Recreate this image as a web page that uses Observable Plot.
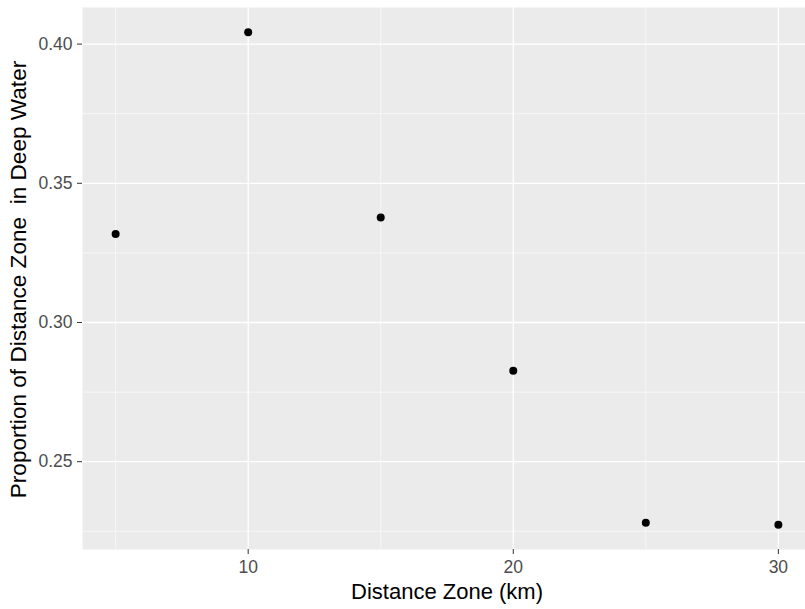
<!DOCTYPE html>
<html>
<head>
<meta charset="utf-8">
<script src="https://cdn.jsdelivr.net/npm/d3@7"></script>
<script src="https://cdn.jsdelivr.net/npm/@observablehq/plot@0.6"></script>
<style>
  html, body { margin: 0; padding: 0; background: #fff; }
  #chart svg { display: block; }
  #chart svg text { white-space: pre; }
</style>
</head>
<body>
<div id="chart"></div>
<script>
// Data
const zones = [5, 10, 15, 20, 25, 30];
const proportions = [0.3318, 0.4043, 0.3377, 0.2827, 0.2281, 0.2273];

// Ticks
const xMajor = [10, 20, 30];
const xMinor = [5, 15, 25];
const yMajor = [0.25, 0.30, 0.35, 0.40];
const yMinor = [0.225, 0.275, 0.325, 0.375];

const xTitle = "Distance Zone (km)";
const yTitle = "Proportion of Distance Zone  in Deep Water";

const data = zones.map((z, i) => ({zone: z, prop: proportions[i]}));

function expand(ext, f = 0.05) {
  const d = (ext[1] - ext[0]) * f;
  return [ext[0] - d, ext[1] + d];
}
const xDomain = expand(d3.extent(zones));
const yDomain = expand(d3.extent(proportions));

const W = 805, H = 609, mL = 82, mT = 7, mB = 60;
// panel continues a few pixels past the right edge of the picture
const xRange = [mL, 811];

const chart = Plot.plot({
  width: W,
  height: H,
  marginLeft: mL,
  marginRight: 0,
  marginTop: mT,
  marginBottom: mB,
  style: {fontFamily: "'Liberation Sans', Arial, sans-serif", background: "#fff"},
  x: {domain: xDomain, range: xRange},
  y: {domain: yDomain},
  marks: [
    Plot.frame({fill: "#EBEBEB", stroke: "none"}),
    Plot.ruleX(xMinor, {stroke: "#fff", strokeWidth: 0.6}),
    Plot.ruleY(yMinor, {stroke: "#fff", strokeWidth: 0.6}),
    Plot.ruleX(xMajor, {stroke: "#fff", strokeWidth: 1.3}),
    Plot.ruleY(yMajor, {stroke: "#fff", strokeWidth: 1.3}),
    Plot.dot(data, {x: "zone", y: "prop", r: 4, fill: "#000", stroke: "none"}),
    Plot.axisX(xMajor, {tickSize: 5, tickPadding: 6, fontSize: 17.5, stroke: "#333", fill: "#4D4D4D", label: null}),
    Plot.axisY(yMajor, {tickSize: 5, tickPadding: 5, fontSize: 17.5, stroke: "#333", fill: "#4D4D4D", label: null, tickFormat: d3.format(".2f")}),
    Plot.text([xTitle], {frameAnchor: "bottom", lineAnchor: "middle", dx: 3, dy: 42, fontSize: 22, fill: "#000"}),
    Plot.text([yTitle], {frameAnchor: "left", textAnchor: "middle", lineAnchor: "middle", rotate: -90, dx: -64, dy: 1, fontSize: 22.6, fill: "#000"})
  ]
});
document.getElementById("chart").appendChild(chart);
</script>
</body>
</html>
